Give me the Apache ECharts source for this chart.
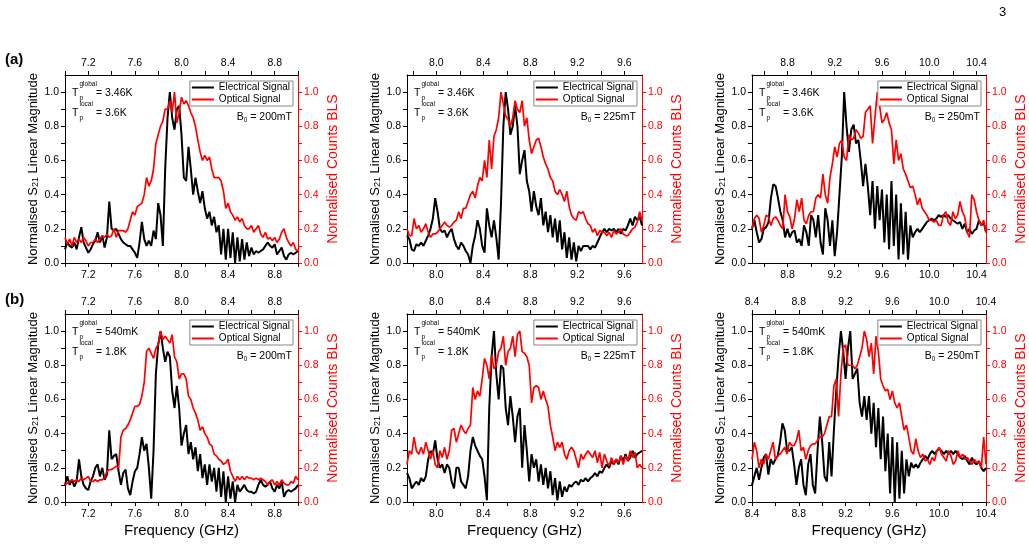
<!DOCTYPE html>
<html>
<head>
<meta charset="utf-8">
<script src="https://cdn.jsdelivr.net/npm/echarts@6/dist/echarts.min.js"></script>
<style>
  html, body { margin: 0; padding: 0; background: #fff; }
  #chart { width: 1029px; height: 546px; }
</style>
</head>
<body>
<div id="chart"></div>
<script>
// Curves on a 0.02 GHz sampling grid, starting at each panel's start frequency.
const freqStep = 0.02;

// row (a): T_p^global = 3.46K
const startA = [7.0, 7.75, 8.5];
const elecA200 = [
  0.08,0.12,0.1,0.09,0.12,0.08,0.15,0.21,0.12,0.09,
  0.06,0.08,0.11,0.13,0.18,0.12,0.16,0.09,0.15,0.36,
  0.2,0.19,0.2,0.17,0.14,0.12,0.11,0.1,0.1,0.08,
  0.06,0.03,0.12,0.24,0.14,0.1,0.13,0.1,0.19,0.14,
  0.35,0.28,0.1,0.55,0.85,1.0,0.85,0.78,0.9,0.92,
  0.75,0.5,0.48,0.68,0.55,0.4,0.5,0.42,0.35,0.42,
  0.32,0.26,0.3,0.22,0.27,0.18,0.22,0.05,0.2,0.02,
  0.2,0.03,0.18,0.0,0.15,0.01,0.14,0.02,0.12,0.04,
  0.09,0.05,0.07,0.06,0.07,0.08,0.1,0.12,0.1,0.09,
  0.11,0.05,0.07,0.09,0.04,0.02,0.05,0.06,0.05,0.06,
  0.07
];
const optA200 = [
  0.15,0.11,0.14,0.1,0.15,0.12,0.14,0.12,0.15,0.13,
  0.1,0.12,0.12,0.14,0.12,0.14,0.16,0.15,0.17,0.15,
  0.16,0.2,0.15,0.19,0.19,0.19,0.18,0.2,0.25,0.3,
  0.28,0.33,0.34,0.35,0.4,0.5,0.45,0.48,0.55,0.7,
  0.75,0.8,0.83,0.9,0.9,0.95,0.88,1.0,0.82,0.88,
  0.97,0.93,0.95,0.92,0.88,0.85,0.8,0.72,0.65,0.6,
  0.63,0.6,0.62,0.55,0.5,0.5,0.5,0.48,0.42,0.32,
  0.35,0.3,0.28,0.25,0.27,0.24,0.26,0.22,0.2,0.2,
  0.22,0.18,0.2,0.22,0.17,0.15,0.18,0.14,0.15,0.13,
  0.15,0.12,0.14,0.18,0.2,0.15,0.12,0.1,0.12,0.08,
  0.07
];
const elecA225 = [
  0.16,0.14,0.08,0.07,0.11,0.1,0.12,0.1,0.13,0.16,
  0.2,0.26,0.38,0.3,0.2,0.18,0.19,0.15,0.18,0.2,
  0.14,0.1,0.08,0.12,0.1,0.07,0.05,0.0,0.1,0.16,
  0.25,0.2,0.1,0.06,0.32,0.22,0.15,0.25,0.15,0.02,
  0.35,0.8,1.0,0.9,0.75,0.8,0.92,0.8,0.52,0.6,
  0.66,0.48,0.42,0.3,0.42,0.33,0.28,0.38,0.22,0.3,
  0.18,0.28,0.15,0.26,0.12,0.25,0.08,0.18,0.03,0.15,
  0.02,0.12,0.01,0.1,0.07,0.1,0.1,0.1,0.08,0.1,
  0.09,0.12,0.15,0.18,0.2,0.18,0.2,0.19,0.2,0.18,
  0.2,0.17,0.2,0.19,0.22,0.26,0.22,0.27,0.25,0.27,
  0.22
];
const optA225 = [
  0.2,0.16,0.16,0.26,0.2,0.22,0.18,0.2,0.23,0.18,
  0.15,0.17,0.17,0.18,0.2,0.22,0.24,0.22,0.21,0.22,
  0.24,0.25,0.3,0.26,0.32,0.32,0.36,0.4,0.42,0.38,
  0.45,0.5,0.48,0.6,0.5,0.72,0.55,0.74,0.78,0.85,
  1.0,0.93,0.86,0.84,0.8,0.85,0.95,0.9,0.88,0.95,
  0.8,0.85,0.72,0.64,0.68,0.72,0.73,0.68,0.62,0.58,
  0.55,0.5,0.48,0.42,0.4,0.43,0.4,0.36,0.42,0.33,
  0.28,0.26,0.25,0.3,0.29,0.3,0.26,0.23,0.22,0.18,
  0.2,0.16,0.19,0.18,0.18,0.16,0.18,0.15,0.19,0.17,
  0.18,0.2,0.17,0.16,0.16,0.18,0.2,0.21,0.24,0.3,
  0.25
];
const elecA250 = [
  0.2,0.25,0.18,0.12,0.14,0.2,0.21,0.24,0.38,0.46,
  0.45,0.38,0.3,0.25,0.15,0.2,0.15,0.18,0.19,0.12,
  0.14,0.1,0.22,0.18,0.1,0.28,0.25,0.15,0.28,0.12,
  0.05,0.32,0.25,0.1,0.25,0.04,0.18,0.4,0.62,1.0,
  0.8,0.65,0.78,0.81,0.7,0.72,0.6,0.45,0.58,0.45,
  0.28,0.48,0.2,0.45,0.25,0.43,0.12,0.4,0.08,0.48,
  0.1,0.4,0.02,0.35,0.05,0.3,0.02,0.22,0.15,0.18,
  0.2,0.18,0.2,0.22,0.24,0.25,0.26,0.25,0.26,0.28,
  0.27,0.28,0.27,0.28,0.26,0.25,0.24,0.23,0.24,0.2,
  0.23,0.18,0.2,0.17,0.19,0.2,0.25,0.22,0.24,0.18
];
const optA250 = [
  0.2,0.26,0.28,0.26,0.18,0.22,0.28,0.27,0.22,0.26,
  0.27,0.25,0.22,0.2,0.4,0.3,0.27,0.2,0.26,0.37,
  0.3,0.38,0.25,0.23,0.28,0.3,0.3,0.38,0.4,0.38,
  0.52,0.4,0.35,0.5,0.58,0.68,0.62,0.7,0.72,0.62,
  0.6,0.75,0.72,0.73,0.78,0.76,0.73,0.74,0.88,0.9,
  0.92,0.7,0.85,1.0,0.92,0.82,0.84,0.88,0.82,0.78,
  0.58,0.72,0.6,0.64,0.55,0.52,0.48,0.44,0.45,0.4,
  0.34,0.38,0.32,0.3,0.28,0.25,0.25,0.24,0.25,0.22,
  0.22,0.28,0.3,0.24,0.22,0.3,0.26,0.28,0.36,0.3,
  0.27,0.18,0.15,0.4,0.37,0.3,0.25,0.22,0.25,0.18
];

// row (b): T_p^global = 540mK
const startB = [7.0, 7.75, 8.4];
const elecB200 = [
  0.1,0.15,0.1,0.13,0.09,0.12,0.25,0.15,0.1,0.08,
  0.07,0.12,0.15,0.2,0.22,0.15,0.2,0.13,0.16,0.42,
  0.25,0.27,0.28,0.18,0.1,0.17,0.19,0.08,0.04,0.12,
  0.18,0.2,0.28,0.38,0.3,0.34,0.2,0.02,0.3,0.75,
  0.92,1.0,0.9,0.82,0.88,0.85,0.65,0.55,0.68,0.55,
  0.33,0.4,0.45,0.28,0.35,0.25,0.32,0.18,0.28,0.14,
  0.22,0.1,0.22,0.12,0.2,0.06,0.2,0.03,0.18,0.0,
  0.15,0.02,0.12,0.0,0.1,0.06,0.08,0.1,0.07,0.06,
  0.06,0.05,0.06,0.1,0.13,0.1,0.09,0.1,0.12,0.08,
  0.06,0.1,0.08,0.12,0.03,0.06,0.07,0.06,0.07,0.08,
  0.1
];
const optB200 = [
  0.1,0.11,0.12,0.13,0.12,0.13,0.12,0.14,0.13,0.14,
  0.15,0.12,0.12,0.13,0.12,0.13,0.13,0.14,0.18,0.19,
  0.19,0.2,0.21,0.2,0.38,0.42,0.43,0.45,0.48,0.52,
  0.56,0.56,0.57,0.62,0.7,0.88,0.9,0.87,0.84,0.9,
  0.92,1.0,0.95,0.97,0.95,0.93,0.98,0.85,0.82,0.72,
  0.75,0.75,0.72,0.62,0.6,0.55,0.52,0.48,0.42,0.44,
  0.4,0.38,0.34,0.33,0.28,0.27,0.25,0.24,0.22,0.23,
  0.25,0.18,0.15,0.12,0.15,0.13,0.15,0.13,0.15,0.14,
  0.14,0.13,0.14,0.13,0.14,0.13,0.12,0.1,0.12,0.13,
  0.1,0.12,0.1,0.13,0.11,0.1,0.1,0.12,0.11,0.15,
  0.13
];
const elecB225 = [
  0.17,0.14,0.08,0.1,0.12,0.1,0.14,0.12,0.15,0.25,
  0.3,0.28,0.36,0.25,0.2,0.22,0.17,0.22,0.2,0.12,
  0.08,0.2,0.2,0.12,0.1,0.08,0.15,0.3,0.38,0.33,
  0.3,0.27,0.25,0.15,0.01,0.55,0.85,1.0,0.75,0.6,
  0.8,0.78,0.55,0.45,0.62,0.5,0.35,0.5,0.55,0.2,
  0.45,0.3,0.12,0.28,0.2,0.25,0.12,0.22,0.1,0.2,
  0.08,0.18,0.04,0.14,0.01,0.12,0.03,0.09,0.06,0.1,
  0.09,0.11,0.12,0.1,0.13,0.12,0.14,0.12,0.14,0.15,
  0.17,0.15,0.18,0.17,0.2,0.22,0.2,0.24,0.22,0.25,
  0.22,0.27,0.24,0.28,0.24,0.26,0.3,0.26,0.28,0.29,
  0.3
];
const optB225 = [
  0.22,0.3,0.28,0.38,0.3,0.28,0.32,0.28,0.35,0.3,
  0.25,0.3,0.22,0.2,0.3,0.26,0.32,0.25,0.3,0.42,
  0.43,0.35,0.4,0.45,0.42,0.4,0.43,0.45,0.67,0.6,
  0.65,0.62,0.72,0.84,0.8,0.72,0.86,0.78,0.8,0.88,
  0.9,0.97,0.8,0.88,0.9,0.97,0.85,0.98,1.0,0.88,
  0.87,0.85,0.8,0.58,0.67,0.68,0.67,0.6,0.65,0.6,
  0.56,0.45,0.38,0.3,0.35,0.32,0.35,0.28,0.25,0.3,
  0.32,0.3,0.25,0.2,0.28,0.25,0.28,0.3,0.28,0.26,
  0.3,0.23,0.29,0.2,0.28,0.24,0.21,0.26,0.22,0.25,
  0.23,0.27,0.22,0.27,0.24,0.3,0.26,0.29,0.2,0.22,
  0.2
];
const elecB250 = [
  0.1,0.15,0.2,0.13,0.2,0.26,0.28,0.16,0.25,0.22,
  0.25,0.27,0.35,0.46,0.42,0.3,0.3,0.32,0.22,0.1,
  0.2,0.25,0.1,0.04,0.22,0.28,0.1,0.05,0.3,0.5,
  0.35,0.15,0.12,0.35,0.15,0.42,0.65,0.85,1.0,0.88,
  0.72,0.9,1.0,0.72,0.75,0.78,0.58,0.5,0.62,0.48,
  0.62,0.4,0.58,0.32,0.55,0.25,0.5,0.18,0.4,0.05,
  0.38,0.0,0.35,0.02,0.3,0.05,0.25,0.15,0.23,0.2,
  0.22,0.2,0.23,0.25,0.27,0.25,0.28,0.3,0.28,0.3,
  0.31,0.3,0.28,0.3,0.28,0.3,0.28,0.3,0.28,0.26,
  0.25,0.27,0.24,0.22,0.26,0.23,0.22,0.24,0.2,0.18,
  0.2
];
const optB250 = [
  0.25,0.35,0.3,0.2,0.25,0.22,0.28,0.25,0.3,0.35,
  0.25,0.27,0.28,0.3,0.32,0.28,0.35,0.33,0.33,0.36,
  0.42,0.3,0.32,0.25,0.3,0.33,0.34,0.34,0.36,0.38,
  0.38,0.4,0.45,0.5,0.5,0.68,0.72,0.5,0.75,0.9,
  0.92,0.8,0.8,0.8,0.78,0.8,0.85,0.9,1.0,0.95,
  0.85,0.93,0.75,0.97,0.88,0.72,0.68,0.65,0.66,0.6,
  0.65,0.58,0.55,0.58,0.5,0.42,0.45,0.38,0.3,0.28,
  0.37,0.3,0.26,0.28,0.24,0.25,0.22,0.26,0.24,0.3,
  0.32,0.28,0.26,0.24,0.3,0.27,0.22,0.24,0.3,0.26,
  0.28,0.25,0.26,0.24,0.22,0.25,0.23,0.24,0.2,0.38,
  0.22
];

// axes
const xRangesA = [[7.0, 9.0], [7.75, 9.75], [8.5, 10.48]];
const xRangesB = [[7.0, 9.0], [7.75, 9.75], [8.4, 10.4]];
const xLabelsA = [[7.2, 7.6, 8.0, 8.4, 8.8], [8.0, 8.4, 8.8, 9.2, 9.6], [8.8, 9.2, 9.6, 10.0, 10.4]];
const xLabelsB = [[7.2, 7.6, 8.0, 8.4, 8.8], [8.0, 8.4, 8.8, 9.2, 9.6], [8.4, 8.8, 9.2, 9.6, 10.0, 10.4]];
const xTicksA = [
  [7.0, 7.2, 7.4, 7.6, 7.8, 8.0, 8.2, 8.4, 8.6, 8.8, 9.0],
  [7.8, 8.0, 8.2, 8.4, 8.6, 8.8, 9.0, 9.2, 9.4, 9.6],
  [8.6, 8.8, 9.0, 9.2, 9.4, 9.6, 9.8, 10.0, 10.2, 10.4]
];
const xTicksB = [
  [7.0, 7.2, 7.4, 7.6, 7.8, 8.0, 8.2, 8.4, 8.6, 8.8, 9.0],
  [7.8, 8.0, 8.2, 8.4, 8.6, 8.8, 9.0, 9.2, 9.4, 9.6],
  [8.4, 8.6, 8.8, 9.0, 9.2, 9.4, 9.6, 9.8, 10.0, 10.2, 10.4]
];
const yLabels = [0, 0.2, 0.4, 0.6, 0.8, 1.0];
const yTicks = [0, 0.1, 0.2, 0.3, 0.4, 0.5, 0.6, 0.7, 0.8, 0.9, 1.0];

const fields = ['200mT', '225mT', '250mT'];
const tempGlobal = ['3.46K', '540mK'];
const tempLocal = ['3.6K', '1.8K'];

// layout (pixels)
const colLeft = [65, 407, 752];
const colWidth = [233, 235, 234];
const rowTop = [75, 314];
const plotHeight = 188;
const FONT = '"Liberation Sans", Arial, sans-serif';
const RED = '#ff0000';

const panels = [
  { row: 0, col: 0, start: startA[0], range: xRangesA[0], labels: xLabelsA[0], ticks: xTicksA[0], elec: elecA200, opt: optA200 },
  { row: 0, col: 1, start: startA[1], range: xRangesA[1], labels: xLabelsA[1], ticks: xTicksA[1], elec: elecA225, opt: optA225 },
  { row: 0, col: 2, start: startA[2], range: xRangesA[2], labels: xLabelsA[2], ticks: xTicksA[2], elec: elecA250, opt: optA250 },
  { row: 1, col: 0, start: startB[0], range: xRangesB[0], labels: xLabelsB[0], ticks: xTicksB[0], elec: elecB200, opt: optB200 },
  { row: 1, col: 1, start: startB[1], range: xRangesB[1], labels: xLabelsB[1], ticks: xTicksB[1], elec: elecB225, opt: optB225 },
  { row: 1, col: 2, start: startB[2], range: xRangesB[2], labels: xLabelsB[2], ticks: xTicksB[2], elec: elecB250, opt: optB250 }
];

function withFreq(start, values) {
  return values.map((v, i) => [+(start + i * freqStep).toFixed(3), v]);
}

const measureCtx = document.createElement('canvas').getContext('2d');
function textWidth(str, font) {
  measureCtx.font = font;
  return measureCtx.measureText(str).width;
}

function txt(x, y, s, font, fill) {
  return {
    type: 'text', x, y, silent: true,
    style: { text: s, font, fill: fill || '#000', verticalAlign: 'middle' }
  };
}

function annotations(p, gx, gy, gw) {
  const big = '10.5px ' + FONT;
  const small = '6.5px ' + FONT;
  const out = [];
  const tx = gx + 7;
  [[gy + 18, 'global', tempGlobal[p.row]], [gy + 38, 'local', tempLocal[p.row]]].forEach(([y, sup, val]) => {
    out.push(txt(tx, y, 'T', big));
    out.push(txt(tx + 7.5, y - 9, sup, small));
    out.push(txt(tx + 7.5, y + 5, 'p', small));
    out.push(txt(tx + 24, y, '= ' + val, big));
  });
  const rest = ' = ' + fields[p.col];
  const wB = textWidth('B', big), w0 = textWidth('0', small), wr = textWidth(rest, big);
  const x0 = gx + gw - 6 - (wB + w0 + wr);
  const yB = gy + 42;
  out.push(txt(x0, yB, 'B', big));
  out.push(txt(x0 + wB, yB + 3, '0', small));
  out.push(txt(x0 + wB + w0, yB, rest, big));
  return out;
}

const grid = [], xAxis = [], yAxis = [], series = [], legend = [];
const graphic = [
  txt(5, 60, '(a)', 'bold 15px ' + FONT),
  txt(5, 300, '(b)', 'bold 15px ' + FONT),
  txt(999, 12, '3', '13px ' + FONT)
];

panels.forEach((p, i) => {
  const gx = colLeft[p.col], gw = colWidth[p.col], gy = rowTop[p.row];
  grid.push({ left: gx, top: gy, width: gw, height: plotHeight });

  const xBase = {
    type: 'value', gridIndex: i, min: p.range[0], max: p.range[1],
    splitLine: { show: false },
    axisLine: { onZero: false, lineStyle: { color: '#000', width: 1 } },
    axisTick: { customValues: p.ticks, length: 4, lineStyle: { color: '#000' } }
  };
  const xLabel = { customValues: p.labels, formatter: v => v.toFixed(1), fontSize: 10.5, color: '#000', fontFamily: FONT };
  xAxis.push(Object.assign({}, xBase, {
    position: 'bottom',
    axisLabel: Object.assign({}, xLabel, { margin: 7 }),
    name: p.row === 1 ? 'Frequency (GHz)' : '',
    nameLocation: 'middle', nameGap: 21,
    nameTextStyle: { fontSize: 15, color: '#000', fontFamily: FONT }
  }));
  xAxis.push(Object.assign({}, xBase, {
    position: 'top',
    axisLabel: Object.assign({}, xLabel, { margin: 6 })
  }));

  yAxis.push({
    type: 'value', gridIndex: i, position: 'left', min: 0, max: 1.1,
    splitLine: { show: false },
    axisLine: { show: true, onZero: false, lineStyle: { color: '#000', width: 1 } },
    axisTick: { show: true, customValues: yTicks, length: 4, lineStyle: { color: '#000' } },
    axisLabel: { customValues: yLabels, formatter: v => v.toFixed(1), fontSize: 10.5, color: '#000', margin: 6, fontFamily: FONT },
    name: '{n|Normalised S}{s|21}{n| Linear Magnitude}',
    nameLocation: 'middle', nameRotate: 90, nameGap: 22,
    nameTextStyle: {
      fontFamily: FONT,
      rich: {
        n: { fontSize: 13, color: '#000', lineHeight: 14, verticalAlign: 'top', fontFamily: FONT },
        s: { fontSize: 9, color: '#000', lineHeight: 9, padding: [6, 0, 0, 0], verticalAlign: 'bottom', fontFamily: FONT }
      }
    }
  });
  yAxis.push({
    type: 'value', gridIndex: i, position: 'right', min: 0, max: 1.1,
    splitLine: { show: false },
    axisLine: { show: true, onZero: false, lineStyle: { color: RED, width: 1 } },
    axisTick: { show: true, customValues: yTicks, length: 4, lineStyle: { color: RED } },
    axisLabel: { customValues: yLabels, formatter: v => v.toFixed(1), fontSize: 10.5, color: RED, margin: 6, fontFamily: FONT },
    name: 'Normalised Counts BLS',
    nameLocation: 'middle', nameRotate: 90, nameGap: 28,
    nameTextStyle: { fontSize: 14, color: RED, fontFamily: FONT }
  });

  series.push({
    name: 'Electrical Signal', type: 'line', xAxisIndex: 2 * i, yAxisIndex: 2 * i,
    data: withFreq(p.start, p.elec), showSymbol: false, symbol: 'none',
    lineStyle: { color: '#000', width: 2 }, itemStyle: { color: '#000' }
  });
  series.push({
    name: 'Optical Signal', type: 'line', xAxisIndex: 2 * i, yAxisIndex: 2 * i + 1,
    data: withFreq(p.start, p.opt), showSymbol: false, symbol: 'none',
    lineStyle: { color: RED, width: 1.7 }, itemStyle: { color: RED }
  });

  legend.push({
    data: ['Electrical Signal', 'Optical Signal'],
    orient: 'vertical', right: 1029 - (gx + gw) + 5, top: gy + 6,
    icon: 'rect', itemWidth: 22, itemHeight: 2, itemGap: 1,
    padding: [1, 3, 1, 2], borderColor: '#888', borderWidth: 1, backgroundColor: '#fff',
    selectedMode: false,
    textStyle: { fontSize: 10, color: '#000', lineHeight: 11, fontFamily: FONT }
  });

  graphic.push(...annotations(p, gx, gy, gw));
});

const chart = echarts.init(document.getElementById('chart'));
chart.setOption({
  animation: false,
  backgroundColor: '#fff',
  textStyle: { fontFamily: FONT },
  grid, xAxis, yAxis, series, legend, graphic
});
</script>
</body>
</html>
